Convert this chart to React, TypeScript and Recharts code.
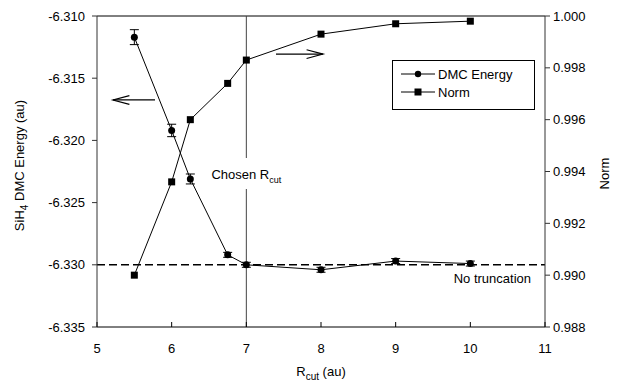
import React from 'react';
import { ComposedChart, Line, XAxis, YAxis, ErrorBar, ReferenceLine, Legend } from 'recharts';

const rcut = [5.5, 6.0, 6.25, 6.75, 7.0, 8.0, 9.0, 10.0];
const dmcEnergy = [-6.3117, -6.3192, -6.3231, -6.3292, -6.3300, -6.3304, -6.3297, -6.3299];
const dmcError = [0.0006, 0.0005, 0.0004, 0.0002, 0.0002, 0.0002, 0.0002, 0.0002];
const norm = [0.9900, 0.9936, 0.9960, 0.9974, 0.9983, 0.9993, 0.9997, 0.9998];

const xTicks = [5, 6, 7, 8, 9, 10, 11];
const leftTicks = [-6.335, -6.33, -6.325, -6.32, -6.315, -6.31];
const rightTicks = [0.988, 0.99, 0.992, 0.994, 0.996, 0.998, 1.0];

const noTruncation = -6.33;
const chosenRcut = 7;
const leftArrow = [{ x: 5.777, y: -6.31675 }, { x: 5.214, y: -6.31675 }];
const rightArrow = [{ x: 7.397, y: 0.99853 }, { x: 8.027, y: 0.99853 }];

const data = rcut.map((x, i) => ({ x, energy: dmcEnergy[i], err: dmcError[i], norm: norm[i] }));

const FONT = '"Liberation Sans", Arial, Helvetica, sans-serif';

const Arrow = (props: any) => {
  const { x1, y1, x2, y2 } = props;
  const ang = Math.atan2(y2 - y1, x2 - x1);
  const L = 17;
  const a = 0.26;
  const p1x = x2 - L * Math.cos(ang - a);
  const p1y = y2 - L * Math.sin(ang - a);
  const p2x = x2 - L * Math.cos(ang + a);
  const p2y = y2 - L * Math.sin(ang + a);
  return (
    <g>
      <line x1={x1} y1={y1} x2={x2} y2={y2} stroke="#000" strokeWidth={1.2} />
      <polyline points={`${p1x},${p1y} ${x2},${y2} ${p2x},${p2y}`} fill="none" stroke="#000" strokeWidth={1.2} />
    </g>
  );
};

const XTick = (props: any) => {
  const { x, y, payload } = props;
  return (
    <g>
      <line x1={x} x2={x} y1={y - 5} y2={y} stroke="#000" strokeWidth={1} />
      <text x={x} y={y + 26} textAnchor="middle" fontSize={13} fontFamily={FONT} fill="#000">
        {payload.value}
      </text>
    </g>
  );
};

const Square = (props: any) => {
  const { cx, cy, index } = props;
  if (cx == null || cy == null) return <g key={`sq-${index}`} />;
  return <rect key={`sq-${index}`} x={cx - 3.5} y={cy - 3.5} width={7} height={7} fill="#000" />;
};

const LegendBox = (props: any) => {
  const { payload } = props;
  return (
    <div
      style={{
        border: '1px solid #000',
        background: '#fff',
        width: 141,
        height: 44,
        boxSizing: 'content-box',
        paddingTop: 4,
        fontFamily: FONT,
        fontSize: 13,
        color: '#000',
      }}
    >
      {(payload || []).map((p: any) => (
        <div key={p.value} style={{ display: 'flex', alignItems: 'center', height: 18 }}>
          <svg width={44} height={12} style={{ marginLeft: 7 }}>
            <line x1={1} x2={35} y1={6} y2={6} stroke="#000" strokeWidth={1} />
            {p.dataKey === 'energy' ? (
              <circle cx={18} cy={6} r={3.2} fill="#000" />
            ) : (
              <rect x={14.5} y={2.5} width={7} height={7} fill="#000" />
            )}
          </svg>
          <span style={{ marginLeft: -6 }}>{p.value}</span>
        </div>
      ))}
    </div>
  );
};

export default function App() {
  return (
    <div style={{ position: 'absolute', left: 0, top: 0, background: '#fff' }}>
      <ComposedChart width={618} height={385} data={data} margin={{ top: 16, right: 0, bottom: 0, left: 0 }}>
        <XAxis
          dataKey="x"
          type="number"
          domain={[5, 11]}
          ticks={xTicks}
          tickLine={false}
          tickSize={0}
          tickMargin={0}
          height={58}
          stroke="#000"
          tick={<XTick />}
          label={(p: any) => {
            const vb = p.viewBox;
            const cx = vb.x + vb.width / 2;
            return (
              <text x={cx} y={376} textAnchor="middle" fontSize={13} fontFamily={FONT} fill="#000">
                R<tspan fontSize={10} dy={4}>cut</tspan>
                <tspan dy={-4}> (au)</tspan>
              </text>
            );
          }}
        />
        <YAxis
          yAxisId="left"
          domain={[-6.335, -6.31]}
          ticks={leftTicks}
          width={97}
          tickSize={5}
          tickMargin={7}
          stroke="#333"
          tick={{ fill: '#000', fontSize: 13, fontFamily: FONT }}
          tickFormatter={(v: number) => v.toFixed(3)}
          label={(p: any) => {
            const vb = p.viewBox;
            const cy = vb.y + vb.height / 2 - 6;
            return (
              <text
                x={24}
                y={cy}
                transform={`rotate(-90 24 ${cy})`}
                textAnchor="middle"
                fontSize={13}
                fontFamily={FONT}
                fill="#000"
              >
                SiH<tspan fontSize={10} dy={4}>4</tspan>
                <tspan dy={-4}> DMC Energy (au)</tspan>
              </text>
            );
          }}
        />
        <YAxis
          yAxisId="right"
          orientation="right"
          domain={[0.988, 1.0]}
          ticks={rightTicks}
          width={73}
          tickSize={5}
          tickMargin={3}
          stroke="#333"
          tick={{ fill: '#000', fontSize: 13, fontFamily: FONT }}
          tickFormatter={(v: number) => v.toFixed(3)}
          label={(p: any) => {
            const vb = p.viewBox;
            const cy = vb.y + vb.height / 2 + 2;
            return (
              <text
                x={609}
                y={cy}
                transform={`rotate(-90 609 ${cy})`}
                textAnchor="middle"
                fontSize={13}
                fontFamily={FONT}
                fill="#000"
              >
                Norm
              </text>
            );
          }}
        />
        <ReferenceLine yAxisId="left" y={-6.31} stroke="#000" strokeWidth={1} />
        <ReferenceLine
          yAxisId="left"
          y={noTruncation}
          stroke="#000"
          strokeWidth={1.4}
          strokeDasharray="8 4"
          label={(p: any) => {
            const vb = p.viewBox;
            return (
              <text x={vb.x + vb.width - 14} y={vb.y + 18} textAnchor="end" fontSize={13} fontFamily={FONT} fill="#000">
                No truncation
              </text>
            );
          }}
        />
        <ReferenceLine
          yAxisId="left"
          x={chosenRcut}
          stroke="#444"
          strokeWidth={1}
          label={(p: any) => {
            const vb = p.viewBox;
            const cx = vb.x;
            return (
              <g>
                <rect x={cx - 36} y={158} width={72} height={31} fill="#fff" />
                <text x={cx} y={179} textAnchor="middle" fontSize={13} fontFamily={FONT} fill="#000">
                  Chosen R<tspan fontSize={9} dy={4}>cut</tspan>
                </text>
              </g>
            );
          }}
        />
        <ReferenceLine yAxisId="left" segment={leftArrow} shape={<Arrow />} ifOverflow="visible" />
        <ReferenceLine yAxisId="right" segment={rightArrow} shape={<Arrow />} ifOverflow="visible" />
        <Line
          yAxisId="left"
          dataKey="energy"
          name="DMC Energy"
          stroke="#000"
          strokeWidth={1}
          dot={{ r: 3.5, fill: '#000', stroke: '#000', strokeWidth: 0 }}
          isAnimationActive={false}
          legendType="circle"
        >
          <ErrorBar dataKey="err" direction="y" width={4.5} stroke="#000" strokeWidth={1} />
        </Line>
        <Line
          yAxisId="right"
          dataKey="norm"
          name="Norm"
          stroke="#000"
          strokeWidth={1}
          dot={<Square />}
          isAnimationActive={false}
          legendType="square"
        />
        <Legend
          layout="horizontal"
          verticalAlign="middle"
          align="center"
          content={<LegendBox />}
          wrapperStyle={{ left: 392, top: 60, width: 143, height: 50 }}
        />
      </ComposedChart>
    </div>
  );
}
